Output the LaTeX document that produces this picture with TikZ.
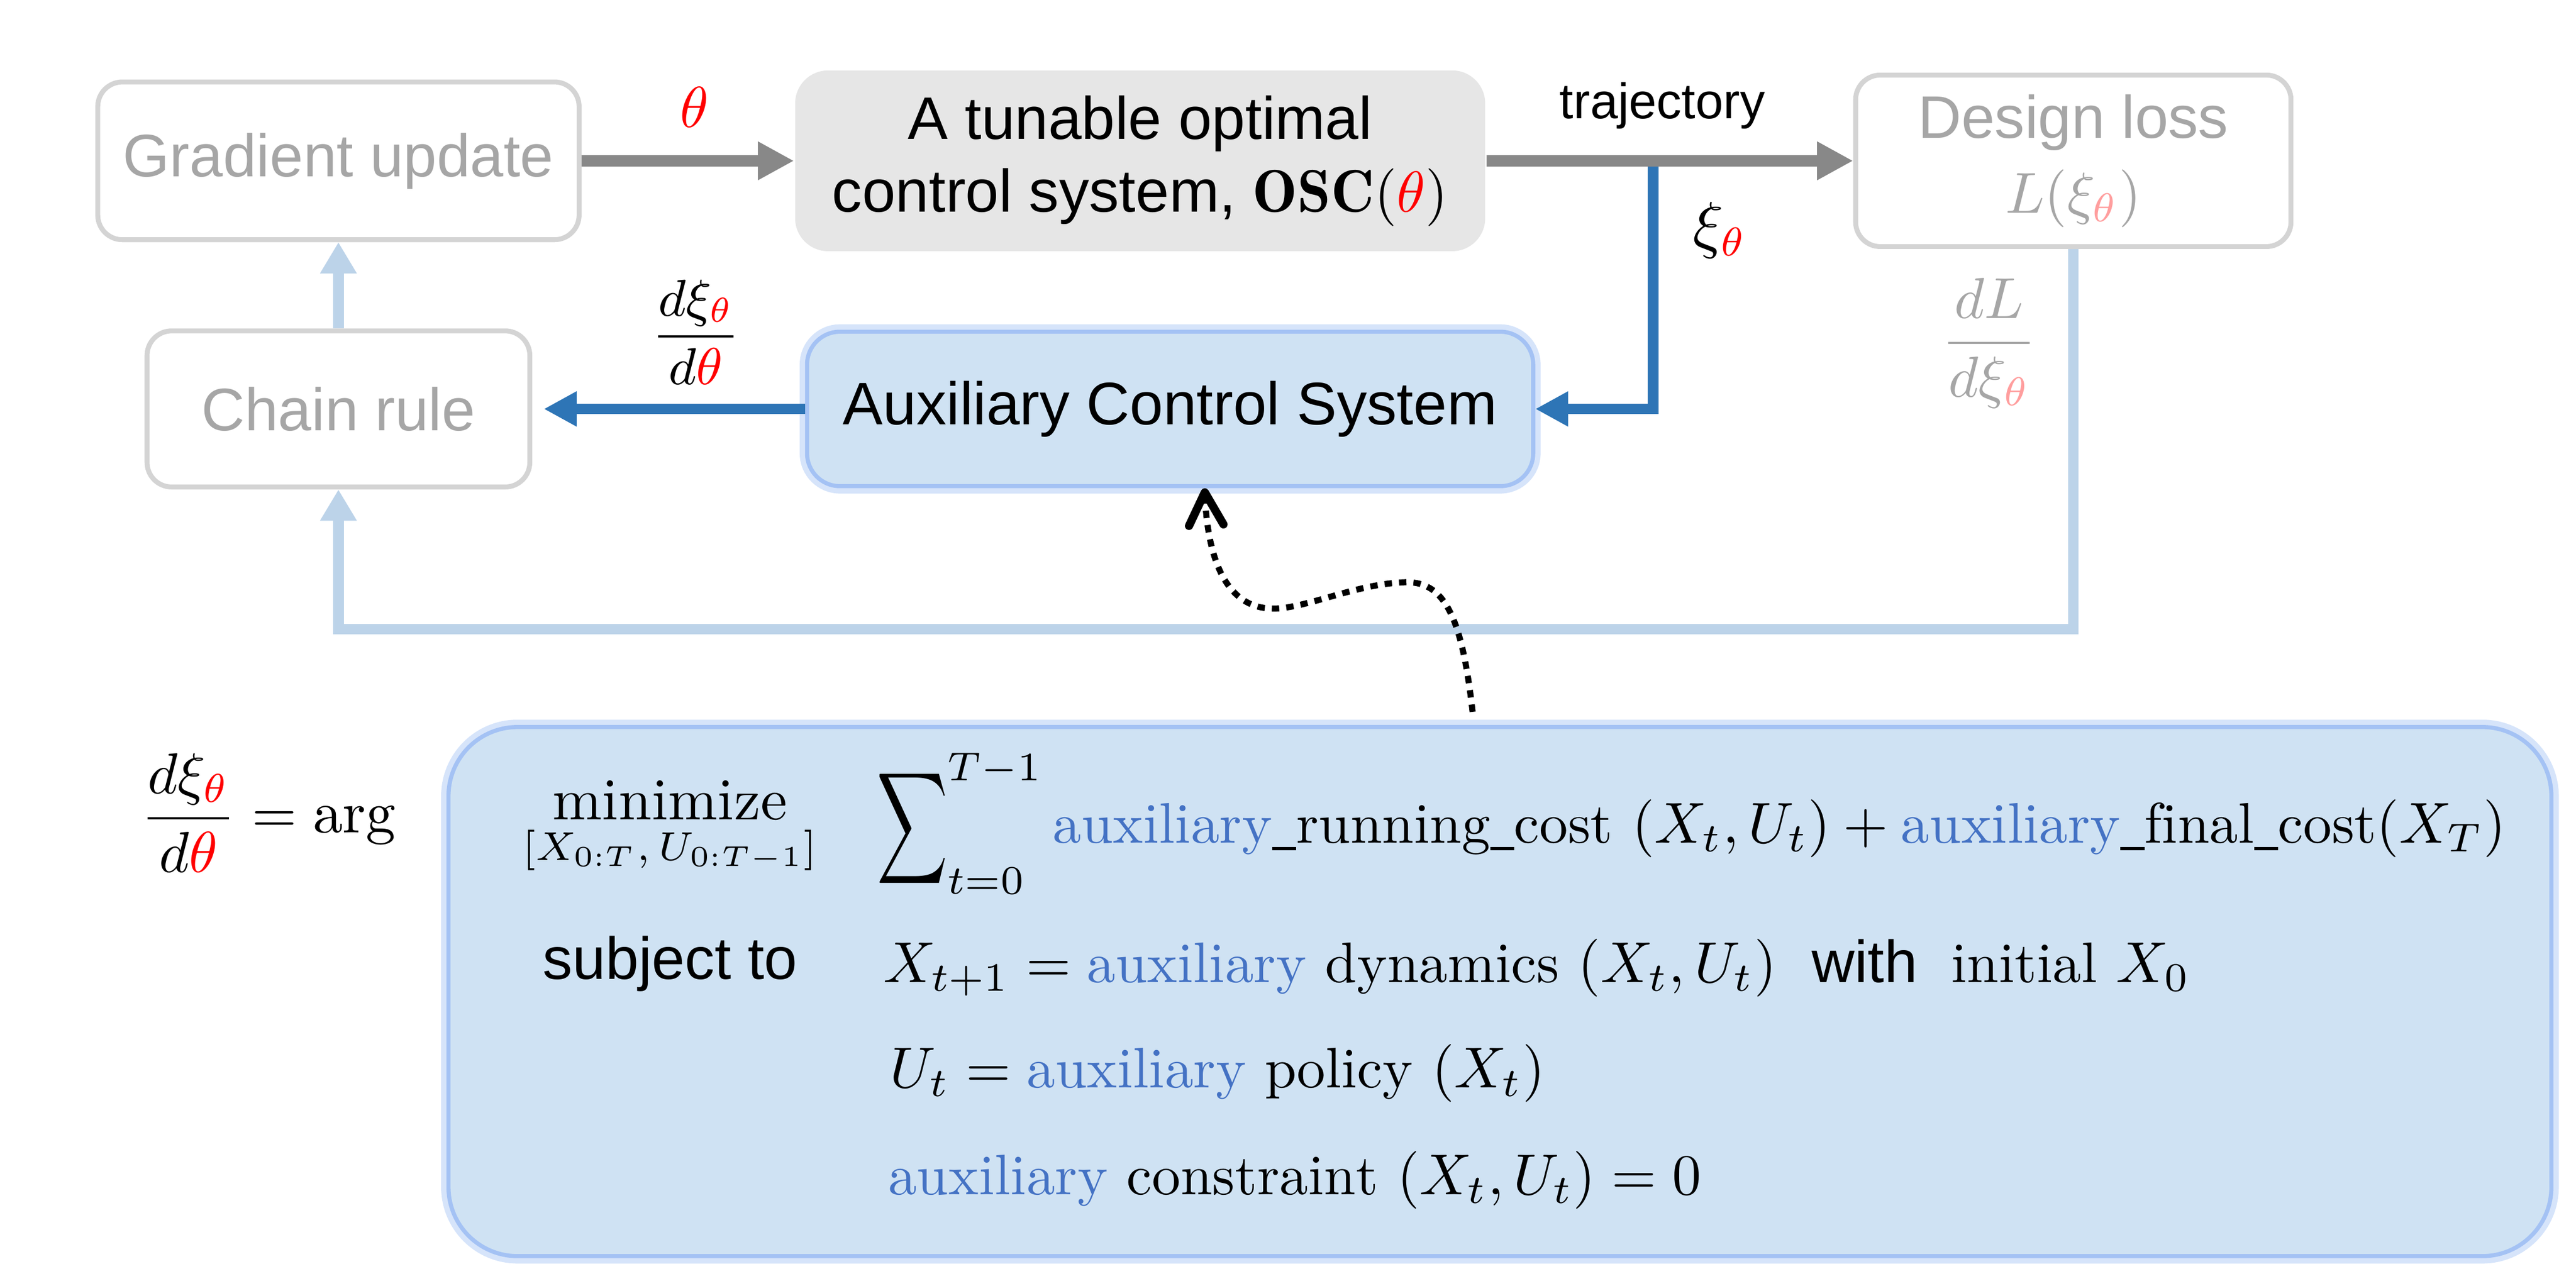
\documentclass[tikz,border=0pt]{standalone}
\usepackage{amsmath}
\usepackage{fontspec}
\setsansfont{Liberation Sans}
\usepackage{tikz}
\usetikzlibrary{shapes,arrows,arrows.meta,positioning,calc}
\usepackage{xcolor}
\definecolor{framegray}{RGB}{212,212,212}
\definecolor{labelgray}{RGB}{166,166,166}
\definecolor{pipegray}{RGB}{136,136,136}
\definecolor{oscgray}{RGB}{230,230,230}
\definecolor{flowblue}{RGB}{46,117,182}
\definecolor{paleblue}{RGB}{188,211,233}
\definecolor{auxfill}{RGB}{207,226,243}
\definecolor{glowblue}{RGB}{164,194,244}
\definecolor{auxword}{RGB}{68,114,196}
\definecolor{thetared}{RGB}{255,0,0}
\definecolor{palered}{RGB}{255,158,158}
\newcommand{\auxtxt}{\textcolor{auxword}{\mathrm{auxiliary}}}
\newcommand{\rth}{\textcolor{thetared}{\theta}}
\newcommand{\pth}{\textcolor{palered}{\theta}}
\newcommand{\usc}{\rule[-0.3ex]{0.42em}{0.06em}}

\begin{document}
\begin{tikzpicture}[node distance=4.5cm,
    block/.style={rectangle, draw=framegray, line width=0.03cm, text=labelgray, align=center, rounded corners=0.15cm, font=\sffamily\fontsize{10.4}{13}\selectfont},
    oscblock/.style={rectangle, fill=oscgray, align=center, rounded corners=0.2cm, minimum width=4.2cm, minimum height=1.1cm, font=\sffamily\fontsize{10.4}{12.6}\selectfont},
    auxblock/.style={rectangle, fill=auxfill, draw=glowblue, line width=0.025cm, preaction={draw=glowblue!45, line width=0.09cm}, rounded corners=0.2cm, font=\sffamily\fontsize{10.4}{12.4}\selectfont},
    optblock/.style={rectangle, fill=auxfill, draw=glowblue, line width=0.025cm, preaction={draw=glowblue!45, line width=0.09cm}, rounded corners=0.42cm},
    pipe/.style={draw=pipegray, line width=0.07cm, -{Triangle[length=0.22cm, width=0.22cm]}},
    flow/.style={draw=flowblue, line width=0.065cm, -{Triangle[length=0.2cm, width=0.2cm]}},
    back/.style={draw=paleblue, line width=0.065cm, -{Triangle[length=0.19cm, width=0.21cm]}},
    dotline/.style={line width=0.037cm, dash pattern=on 0.045cm off 0.043cm, -{Straight Barb[length=0.2cm, width=0.21cm, line width=0.05cm, round]}},
    tag/.style={inner sep=0pt, font=\fontsize{10.3}{12}\selectfont},
    formula/.style={inner sep=0pt, anchor=base west, font=\fontsize{9.9}{12}\selectfont}]
    \useasboundingbox (0,0) rectangle (15.68,7.824);
    \node [block, minimum width=2.93cm, minimum height=0.96cm] (grad) at (2.06,6.845) {Gradient update};
    \node [oscblock, right of=grad, xshift=0.38cm] (osc) {A tunable optimal\\control system, $\mathbf{OSC}(\rth)$};
    \node [block, minimum width=2.65cm, minimum height=0.976cm, right of=osc, xshift=1.18cm] (design) {Design loss\\$L(\xi_{\pth})$};
    \node [block, minimum width=2.33cm, minimum height=0.95cm, below=0.525cm of grad] (chain) {Chain rule};
    \node [auxblock, minimum width=4.42cm, minimum height=0.94cm, right=1.66cm of chain] (aux) {Auxiliary Control System};
    \node [optblock, minimum width=12.8cm, minimum height=3.22cm] (optbox) at (9.13,1.789) {};

    \node [tag, anchor=west] (lhs) at (0.85,2.877) {$\dfrac{d\xi_{\rth}}{d\rth}=\mathrm{arg}$};
    \node [tag, anchor=base] (minword) at (4.077,2.834) {$\displaystyle\mathop{\mathrm{minimize}}\limits_{[X_{0:T},\,U_{0:T-1}]}$};
    \node [formula] (costrow) at (5.33,2.694) {$\mathop{\vcenter{\hbox{\scalebox{0.85}[1.35]{$\displaystyle\sum$}}}}\nolimits_{t=0}^{T-1}\auxtxt\usc\mathrm{running}\usc\mathrm{cost}\ (X_t,U_t)+\auxtxt\usc\mathrm{final}\usc\mathrm{cost}(X_T)$};
    \node [tag, anchor=base, font=\sffamily\fontsize{10.3}{12}\selectfont] (subj) at (4.08,1.864) {subject to};
    \node [formula] (dynrow) at (5.37,1.844) {$X_{t+1}=\auxtxt\ \mathrm{dynamics}\ (X_t,U_t)$};
    \node [formula, font=\sffamily\fontsize{10.3}{12}\selectfont] (withword) at (11.02,1.844) {with};
    \node [formula] (initrow) at (11.87,1.844) {$\mathrm{initial}\ X_0$};
    \node [formula] (polrow) at (5.41,1.204) {$U_t=\auxtxt\ \mathrm{policy}\ (X_t)$};
    \node [formula] (conrow) at (5.40,0.554) {$\auxtxt\ \mathrm{constraint}\ (X_t,U_t)=0$};

    \coordinate (split) at ($(osc.east)!0.455!(design.west)$);
    \coordinate [below=0.85cm of chain.south] (turn);
    \coordinate (curl) at ($(optbox.north west)+(6.246,0.08)$);

    \draw[flow] (split) |- node[tag, pos=0.14, right=0.21cm, font=\fontsize{10.5}{12}\selectfont] {$\xi_{\rth}$} (aux.east);
    \draw[pipe] (grad.east) -- node[tag, pos=0.53, above=0.17cm] {$\rth$} (osc.west);
    \draw[pipe] (osc.east) -- node[tag, pos=0.48, above=0.16cm, font=\sffamily\fontsize{8.65}{10}\selectfont] {trajectory} (design.west);
    \draw[flow, shorten >=0.07cm] (aux.west) -- node[tag, pos=0.4, above=0.115cm, font=\fontsize{8.8}{10}\selectfont] {$\dfrac{d\xi_{\rth}}{d\rth}$} (aux.west -| chain.east);
    \draw[back] (chain) -- (grad);
    \draw[back] (design.south) |- node[tag, pos=0.124, left=0.19cm, text=labelgray] {$\dfrac{dL}{d\xi_{\pth}}$} (turn) -- (chain.south);
    \draw[dotline] (curl) .. controls (8.90,4.05) and (8.80,4.29) .. (8.55,4.28)
        .. controls (8.25,4.27) and (7.95,4.12) .. (7.75,4.12)
        .. controls (7.45,4.12) and (7.35,4.45) .. ([xshift=0.21cm]aux.south);
\end{tikzpicture}
\end{document}
